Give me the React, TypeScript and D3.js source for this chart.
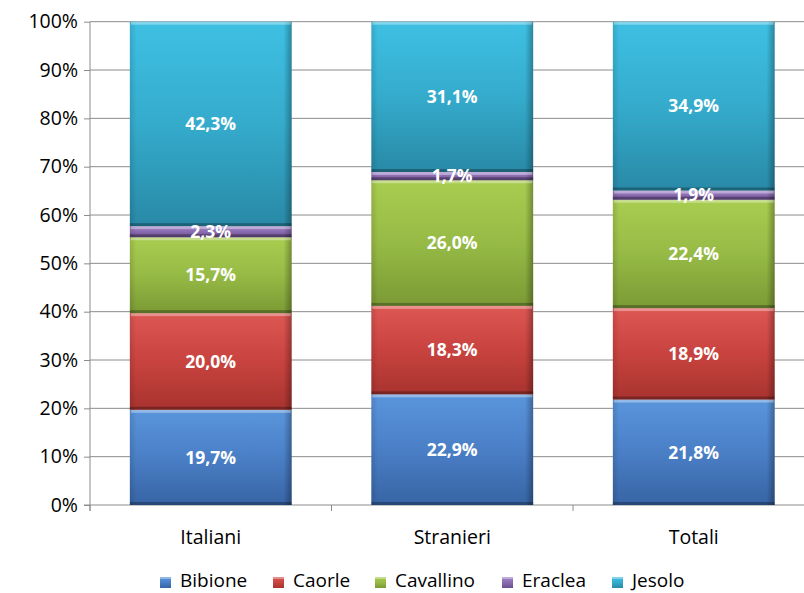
import { useEffect, useRef } from "react"
import * as d3 from "d3"

const categories = ["Italiani", "Stranieri", "Totali"]
const seriesNames = ["Bibione", "Caorle", "Cavallino", "Eraclea", "Jesolo"]
const bibione = [19.7, 22.9, 21.8]
const caorle = [20.0, 18.3, 18.9]
const cavallino = [15.7, 26.0, 22.4]
const eraclea = [2.3, 1.7, 1.9]
const jesolo = [42.3, 31.1, 34.9]
const yTicks = [0, 10, 20, 30, 40, 50, 60, 70, 80, 90, 100]

// top / mid / bottom colours per series
const palette: Record<string, [string, string, string]> = {
  Bibione: ["#5a95dc", "#4a7fc6", "#3764a4"],
  Caorle: ["#dd5753", "#c8433f", "#a8332f"],
  Cavallino: ["#a9cd50", "#96ba45", "#7b9a35"],
  Eraclea: ["#a184c9", "#8a6bb0", "#6d5090"],
  Jesolo: ["#3ec0e3", "#35abcc", "#2889a6"],
}

const font = "'Open Sans', sans-serif"

export default function App() {
  const svgRef = useRef<SVGSVGElement>(null)

  useEffect(() => {
    if (!svgRef.current) return
    d3.select(svgRef.current).selectAll("*").remove()

    const width = 804
    const height = 593
    const left = 90
    const top = 21.7
    const bottom = 505
    const bandW = 241.5

    const svg = d3.select(svgRef.current).attr("width", width).attr("height", height)

    const rows = categories.map((c, i) => ({
      cat: c,
      Bibione: bibione[i],
      Caorle: caorle[i],
      Cavallino: cavallino[i],
      Eraclea: eraclea[i],
      Jesolo: jesolo[i],
    }))

    const x = d3
      .scaleBand()
      .domain(categories)
      .range([left, left + bandW * categories.length])
      .paddingInner(0.33)
      .paddingOuter(0.165)

    const y = d3.scaleLinear().domain([0, 100]).range([bottom, top])

    const stack = d3
      .stack<any>()
      .keys(seriesNames)
      .offset(d3.stackOffsetExpand)
    const layers = stack(rows)

    // gradients
    const defs = svg.append("defs")
    seriesNames.forEach((s) => {
      const [c1, c2, c3] = palette[s]
      const g = defs
        .append("linearGradient")
        .attr("id", "grad-" + s)
        .attr("x1", 0)
        .attr("y1", 0)
        .attr("x2", 0)
        .attr("y2", 1)
      g.append("stop").attr("offset", "0%").attr("stop-color", c1)
      g.append("stop").attr("offset", "50%").attr("stop-color", c2)
      g.append("stop").attr("offset", "100%").attr("stop-color", c3)
    })
    const shade = defs
      .append("linearGradient")
      .attr("id", "side-shade")
      .attr("x1", 0)
      .attr("y1", 0)
      .attr("x2", 1)
      .attr("y2", 0)
    shade.append("stop").attr("offset", "0%").attr("stop-color", "#000").attr("stop-opacity", 0.12)
    shade.append("stop").attr("offset", "4%").attr("stop-color", "#000").attr("stop-opacity", 0)
    shade.append("stop").attr("offset", "95%").attr("stop-color", "#000").attr("stop-opacity", 0)
    shade.append("stop").attr("offset", "100%").attr("stop-color", "#000").attr("stop-opacity", 0.3)

    // gridlines
    svg
      .append("g")
      .selectAll("line")
      .data(yTicks.filter((t) => t > 0))
      .enter()
      .append("line")
      .attr("x1", left)
      .attr("x2", width)
      .attr("y1", (d) => y(d))
      .attr("y2", (d) => y(d))
      .attr("stroke", "#8c8c8c")
      .attr("stroke-width", 1)

    // y axis
    const yAxis = svg
      .append("g")
      .attr("transform", `translate(${left},0)`)
      .call(d3.axisLeft(y).tickValues(yTicks).tickSize(6).tickPadding(6).tickFormat((d) => d + "%"))
    yAxis.select(".domain").attr("stroke", "#8c8c8c").attr("d", `M0,${top}V${bottom + 6}`)
    yAxis.selectAll(".tick line").attr("stroke", "#8c8c8c")
    yAxis
      .selectAll(".tick text")
      .attr("fill", "#000")
      .style("font-family", font)
      .style("font-size", "19.5px")

    // x axis
    const xAxis = svg.append("g").attr("transform", `translate(0,${bottom})`)
    xAxis
      .append("line")
      .attr("x1", left - 6)
      .attr("x2", width)
      .attr("stroke", "#8c8c8c")
    xAxis
      .selectAll(".sep")
      .data(d3.range(categories.length + 1))
      .enter()
      .append("line")
      .attr("x1", (i) => left + i * bandW)
      .attr("x2", (i) => left + i * bandW)
      .attr("y1", 0)
      .attr("y2", 6)
      .attr("stroke", "#8c8c8c")
    xAxis
      .selectAll("text")
      .data(categories)
      .enter()
      .append("text")
      .attr("x", (d) => (x(d) || 0) + x.bandwidth() / 2)
      .attr("y", 39)
      .attr("text-anchor", "middle")
      .style("font-family", font)
      .style("font-size", "19.5px")
      .attr("fill", "#000")
      .text((d) => d)

    // bars
    layers.forEach((layer) => {
      const key = layer.key
      const g = svg.append("g")
      layer.forEach((seg) => {
        const cat = seg.data.cat as string
        const x0 = x(cat) || 0
        const w = x.bandwidth()
        const yTop = y(seg[1] * 100)
        const yBot = y(seg[0] * 100)
        const h = yBot - yTop
        g.append("rect")
          .attr("x", x0)
          .attr("y", yTop)
          .attr("width", w)
          .attr("height", h)
          .attr("fill", `url(#grad-${key})`)
        g.append("rect")
          .attr("x", x0)
          .attr("y", yTop)
          .attr("width", w)
          .attr("height", h)
          .attr("fill", "url(#side-shade)")
        // bevel top highlight
        g.append("rect")
          .attr("x", x0 + 1)
          .attr("y", yTop)
          .attr("width", w - 2)
          .attr("height", Math.min(3, h / 2))
          .attr("fill", "#fff")
          .attr("opacity", 0.35)
        // bevel bottom shadow
        g.append("rect")
          .attr("x", x0)
          .attr("y", yBot - Math.min(3, h / 2))
          .attr("width", w)
          .attr("height", Math.min(3, h / 2))
          .attr("fill", "#000")
          .attr("opacity", 0.28)
      })
    })

    // labels
    layers.forEach((layer) => {
      svg
        .append("g")
        .selectAll("text")
        .data(layer)
        .enter()
        .append("text")
        .attr("x", (d) => (x(d.data.cat) || 0) + x.bandwidth() / 2)
        .attr("y", (d) => (y(d[0] * 100) + y(d[1] * 100)) / 2)
        .attr("dy", "0.36em")
        .attr("text-anchor", "middle")
        .attr("fill", "#fff")
        .style("font-family", font)
        .style("font-weight", "bold")
        .style("font-size", "17.5px")
        .text((d) => (d.data[layer.key] as number).toFixed(1).replace(".", ",") + "%")
    })

    // legend
    const legendTextX = [180, 293, 395, 522, 632]
    const legend = svg.append("g")
    seriesNames.forEach((s, i) => {
      const lg = legend.append("g").attr("transform", `translate(${legendTextX[i]},0)`)
      lg.append("rect").attr("x", -20).attr("y", 577).attr("width", 11).attr("height", 11).attr("fill", `url(#grad-${s})`)
      lg.append("rect").attr("x", -20).attr("y", 577).attr("width", 11).attr("height", 11).attr("fill", "url(#side-shade)")
      lg.append("rect").attr("x", -20).attr("y", 577).attr("width", 11).attr("height", 2).attr("fill", "#fff").attr("opacity", 0.35)
      lg.append("text")
        .attr("x", 0)
        .attr("y", 587)
        .style("font-family", font)
        .style("font-size", "19px")
        .attr("fill", "#000")
        .text(s)
    })
  }, [])

  return (
    <svg
      ref={svgRef}
      style={{ position: "absolute", left: 0, top: 0, display: "block", background: "#fff" }}
    ></svg>
  )
}
